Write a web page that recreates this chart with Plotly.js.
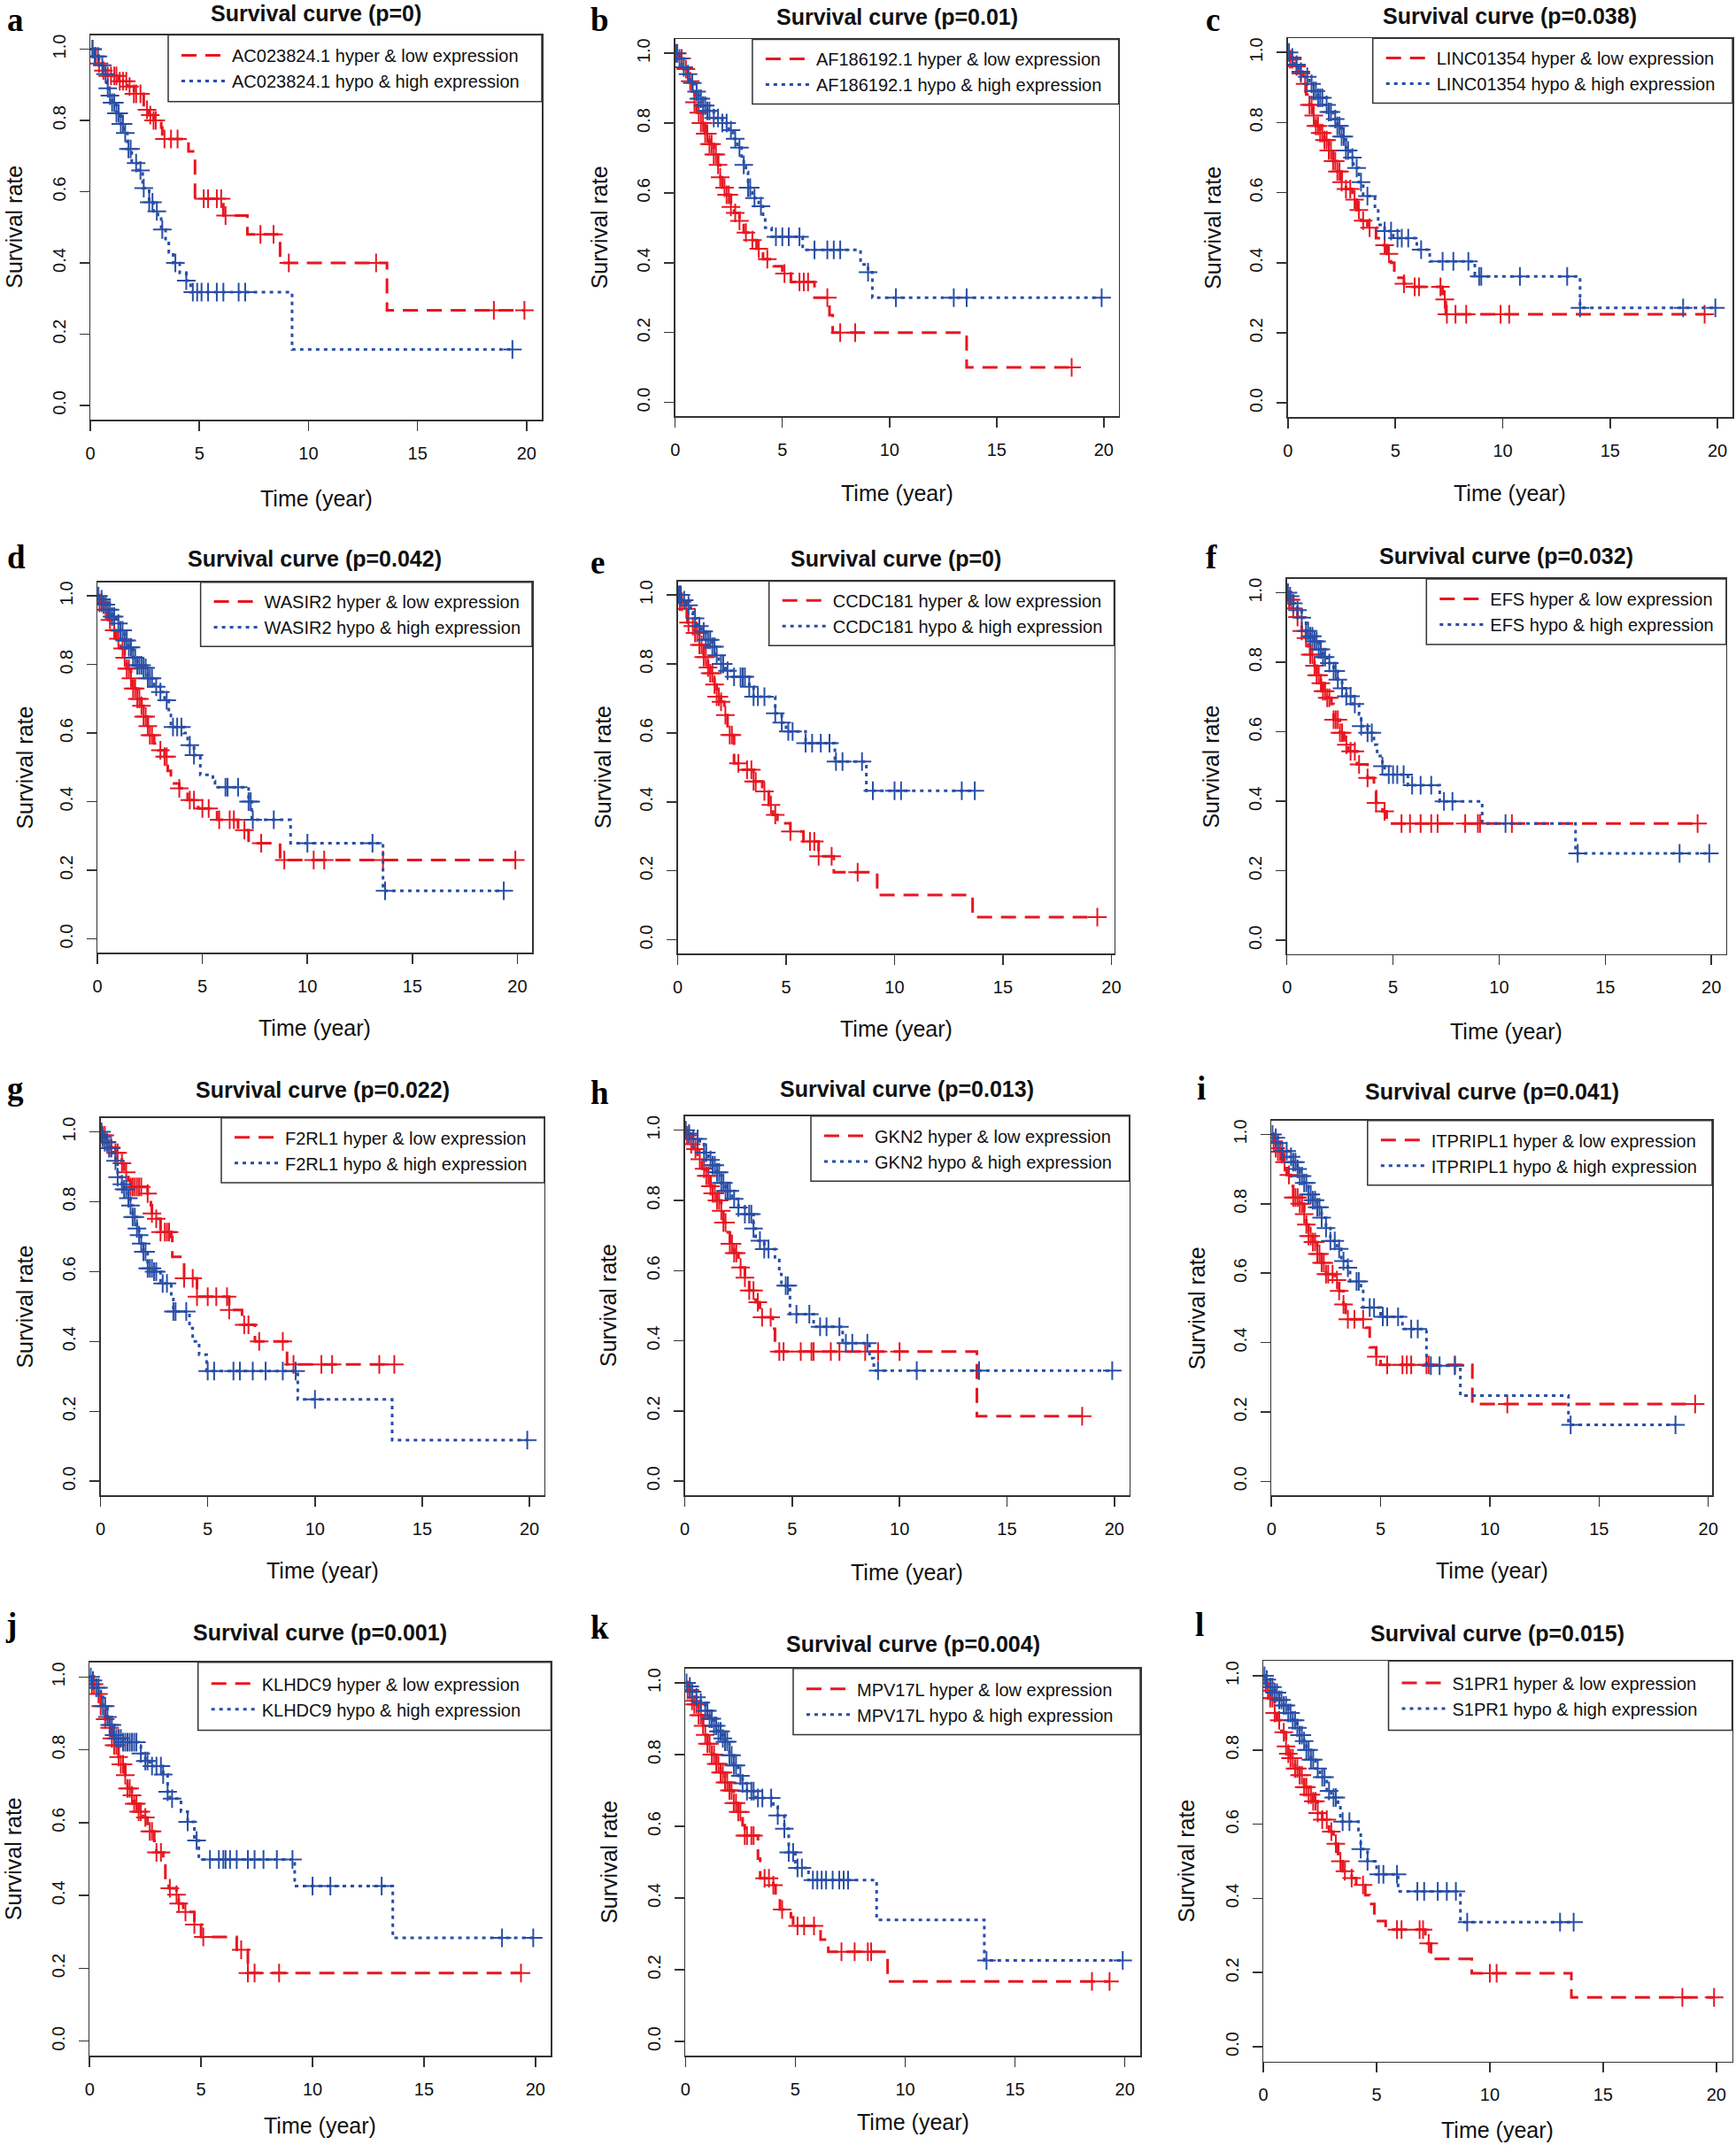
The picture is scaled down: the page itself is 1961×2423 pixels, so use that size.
<!DOCTYPE html>
<html><head><meta charset="utf-8">
<script src="https://cdn.plot.ly/plotly-3.0.1.min.js"></script>
<style>html,body{margin:0;padding:0;background:#fff}</style>
</head><body><div id="chart" style="width:1961px;height:2423px"></div>
<script>
// ---------------- DATA ----------------
const panelLetters = ['a','b','c','d','e','f','g','h','i','j','k','l'];
const genes = ['AC023824.1','AF186192.1','LINC01354','WASIR2','CCDC181','EFS','F2RL1','GKN2','ITPRIPL1','KLHDC9','MPV17L','S1PR1'];
const pValues = ['0','0.01','0.038','0.042','0','0.032','0.022','0.013','0.041','0.001','0.004','0.015'];
const xTickVals = [0,5,10,15,20];
const yTickVals = [0,0.2,0.4,0.6,0.8,1.0];
const yTickText = ['0.0','0.2','0.4','0.6','0.8','1.0'];

// a
const aHyperTime = [0.2,0.4,0.6,0.8,1.3,1.7,2.0,2.45,2.7,2.9,3.25,3.3,4.5,4.8,6.1,7.2,8.7,13.6];
const aHyperSurv = [0.98,0.96,0.94,0.925,0.91,0.895,0.875,0.83,0.815,0.80,0.78,0.748,0.713,0.58,0.533,0.48,0.40,0.267];
const aHyperCensor = [0.1,0.25,0.4,0.6,0.8,0.95,1.1,1.2,1.35,1.5,1.65,1.8,2.0,2.1,2.3,2.6,2.75,2.9,3.0,3.4,3.7,4.0,5.2,5.4,5.8,6.0,6.2,7.8,8.4,9.1,13.1,18.5,19.9];
const aHypoTime = [0.2,0.4,0.6,0.75,0.85,1.0,1.2,1.4,1.55,1.7,1.9,2.2,2.4,2.7,2.9,3.1,3.25,3.45,3.6,3.8,4.1,4.4,4.6,9.25];
const aHypoSurv = [0.98,0.955,0.93,0.89,0.87,0.85,0.82,0.79,0.765,0.72,0.68,0.66,0.61,0.57,0.545,0.53,0.494,0.456,0.43,0.40,0.372,0.35,0.318,0.157];
const aHypoCensor = [0.1,0.2,0.35,0.55,0.7,0.8,0.9,1.0,1.1,1.2,1.3,1.4,1.5,1.6,1.75,1.85,2.1,2.3,2.45,2.7,2.85,3.05,3.3,3.9,4.4,4.7,4.9,5.1,5.4,5.8,6.1,6.8,7.1,19.35];
// b
const bHyperTime = [0.2,0.4,0.6,0.8,0.9,1.0,1.2,1.4,1.6,1.8,2.0,2.1,2.2,2.4,2.6,2.75,3.0,3.2,3.5,3.8,4.1,4.6,5.0,5.4,6.5,7.2,7.35,13.6];
const bHyperSurv = [0.985,0.955,0.92,0.89,0.86,0.83,0.80,0.77,0.74,0.71,0.68,0.645,0.615,0.595,0.56,0.543,0.52,0.486,0.465,0.44,0.41,0.39,0.369,0.345,0.30,0.25,0.20,0.10];
const bHyperCensor = [0.1,0.3,0.5,0.7,0.9,1.1,1.2,1.3,1.4,1.5,1.6,1.7,1.8,1.9,2.0,2.1,2.3,2.4,2.5,2.6,2.8,3.0,3.3,3.6,3.9,4.3,5.1,5.8,6.0,6.2,7.1,7.7,8.4,18.5];
const bHypoTime = [0.1,0.3,0.5,0.7,0.9,1.1,1.3,1.5,1.8,2.2,2.5,2.7,2.9,3.1,3.2,3.3,3.4,3.6,3.9,4.1,4.2,4.5,5.95,8.65,9.0,9.2];
const bHypoSurv = [0.985,0.96,0.94,0.915,0.89,0.87,0.85,0.835,0.815,0.80,0.78,0.755,0.73,0.70,0.68,0.66,0.615,0.585,0.562,0.533,0.50,0.474,0.437,0.395,0.373,0.30];
const bHypoCensor = [0.05,0.2,0.4,0.6,0.8,1.0,1.1,1.2,1.3,1.4,1.5,1.6,1.8,2.0,2.2,2.4,2.6,2.8,3.0,3.2,3.4,3.5,3.7,4.0,4.7,5.0,5.3,5.8,6.5,7.1,7.4,7.7,9.0,10.3,13.0,13.6,19.9];
// c
const cHyperTime = [0.1,0.3,0.5,0.7,0.85,1.0,1.15,1.3,1.5,1.7,1.9,2.1,2.3,2.5,2.7,3.0,3.2,3.4,3.7,4.1,4.3,4.6,4.8,4.95,5.4,5.8,7.2,7.35];
const cHyperSurv = [0.98,0.96,0.94,0.91,0.88,0.85,0.82,0.79,0.77,0.75,0.72,0.69,0.66,0.63,0.61,0.58,0.55,0.52,0.50,0.47,0.45,0.425,0.40,0.357,0.34,0.331,0.295,0.253];
const cHyperCensor = [0.1,0.2,0.4,0.6,0.8,1.0,1.1,1.2,1.3,1.4,1.5,1.6,1.7,1.8,1.9,2.0,2.1,2.2,2.3,2.4,2.5,2.7,2.9,3.1,3.3,3.5,3.8,4.5,4.7,5.4,5.9,6.1,7.1,7.3,7.4,7.8,8.3,9.9,10.3,19.4];
const cHypoTime = [0.1,0.3,0.5,0.7,1.0,1.2,1.4,1.7,1.9,2.1,2.3,2.5,2.7,2.9,3.05,3.3,3.5,4.05,4.2,4.5,4.9,6.0,6.6,8.7,13.6];
const cHypoSurv = [0.985,0.965,0.945,0.93,0.91,0.89,0.87,0.85,0.83,0.81,0.79,0.76,0.72,0.70,0.67,0.63,0.59,0.56,0.508,0.49,0.47,0.437,0.404,0.361,0.271];
const cHypoCensor = [0.05,0.2,0.4,0.6,0.9,1.1,1.2,1.3,1.4,1.5,1.6,1.8,1.9,2.0,2.2,2.3,2.4,2.5,2.6,2.7,2.8,3.0,3.2,3.4,3.7,4.5,4.8,5.1,5.3,5.6,6.2,7.2,7.7,8.4,8.9,9.0,10.8,13.0,13.6,18.4,19.9];
// d
const dHyperTime = [0.1,0.3,0.5,0.7,0.9,1.1,1.3,1.4,1.6,1.7,1.9,2.1,2.2,2.4,2.5,2.7,2.9,3.2,3.35,3.5,3.9,4.3,4.8,5.7,6.7,7.2,8.7];
const dHyperSurv = [0.98,0.96,0.93,0.90,0.875,0.847,0.82,0.788,0.76,0.73,0.70,0.68,0.648,0.62,0.594,0.57,0.55,0.531,0.49,0.453,0.439,0.405,0.38,0.347,0.317,0.279,0.23];
const dHyperCensor = [0.1,0.2,0.4,0.6,0.8,1.0,1.2,1.3,1.4,1.5,1.6,1.7,1.8,1.9,2.0,2.1,2.2,2.3,2.4,2.5,2.6,3.0,3.2,3.3,3.9,4.4,4.6,5.0,5.3,5.8,6.3,6.5,7.0,7.8,8.9,10.3,10.8,13.6,19.9];
const dHypoTime = [0.1,0.3,0.5,0.7,0.9,1.1,1.3,1.5,1.7,1.9,2.2,2.4,2.7,3.0,3.2,3.4,3.5,4.1,4.3,4.6,4.9,5.5,5.6,7.2,7.35,9.2,13.6];
const dHypoSurv = [0.99,0.975,0.96,0.94,0.92,0.90,0.87,0.85,0.82,0.798,0.79,0.76,0.735,0.72,0.696,0.657,0.618,0.60,0.565,0.536,0.478,0.46,0.442,0.40,0.347,0.279,0.14];
const dHypoCensor = [0.05,0.2,0.3,0.4,0.5,0.6,0.7,0.8,1.0,1.1,1.2,1.3,1.4,1.5,1.6,1.7,1.8,1.9,2.0,2.1,2.2,2.3,2.4,2.5,2.6,2.8,3.0,3.3,3.6,3.8,4.0,4.4,4.6,6.1,6.2,6.7,7.2,7.3,7.4,8.4,10.0,13.1,13.7,19.35];
// e
const eHyperTime = [0.1,0.3,0.45,0.6,0.8,1.0,1.2,1.4,1.5,1.7,1.8,2.0,2.15,2.3,2.6,3.0,3.5,3.9,4.2,4.4,4.6,5.2,5.8,6.5,7.2,9.2,13.6];
const eHyperSurv = [0.98,0.96,0.92,0.91,0.89,0.855,0.82,0.79,0.773,0.74,0.705,0.69,0.652,0.594,0.512,0.493,0.459,0.43,0.391,0.362,0.338,0.314,0.285,0.242,0.196,0.13,0.066];
const eHyperCensor = [0.1,0.2,0.4,0.5,0.7,0.8,0.9,1.0,1.1,1.2,1.3,1.4,1.5,1.6,1.7,1.8,1.9,2.0,2.2,2.4,2.5,2.8,3.2,3.4,3.5,3.6,4.0,4.3,4.5,5.2,6.1,6.3,6.5,7.1,8.3,19.35];
const eHypoTime = [0.2,0.4,0.6,0.7,0.9,1.1,1.3,1.6,1.75,1.9,2.2,2.5,3.3,3.5,4.5,4.8,5.0,5.9,7.25,8.7];
const eHypoSurv = [0.985,0.97,0.95,0.932,0.91,0.894,0.87,0.85,0.825,0.80,0.78,0.763,0.734,0.705,0.657,0.63,0.604,0.57,0.517,0.432];
const eHypoCensor = [0.05,0.1,0.15,0.3,0.5,0.8,1.0,1.2,1.3,1.4,1.5,1.6,1.7,1.8,2.0,2.1,2.3,2.6,2.9,3.0,3.1,3.3,3.5,3.7,4.0,4.5,4.8,5.1,5.3,5.9,6.2,6.6,7.0,7.3,7.6,8.5,9.0,10.0,10.3,13.1,13.7];
// f
const fHyperTime = [0.1,0.3,0.5,0.7,0.9,1.0,1.1,1.3,1.4,1.6,1.7,1.9,2.1,2.2,2.5,2.7,2.9,3.3,3.8,4.1,4.2,4.5,4.7];
const fHyperSurv = [0.98,0.955,0.93,0.89,0.87,0.846,0.822,0.79,0.763,0.74,0.717,0.698,0.68,0.635,0.597,0.563,0.544,0.506,0.467,0.429,0.395,0.371,0.336];
const fHyperCensor = [0.1,0.2,0.3,0.5,0.7,0.9,1.1,1.2,1.3,1.4,1.5,1.6,1.7,1.8,1.9,2.0,2.2,2.3,2.4,2.5,2.6,2.8,3.0,3.2,3.4,3.8,4.2,4.6,5.4,5.8,6.3,6.8,7.1,8.4,9.0,9.1,10.6,19.35];
const fHypoTime = [0.1,0.3,0.5,0.7,0.9,1.1,1.3,1.5,1.7,1.9,2.2,2.4,2.6,2.8,3.1,3.4,3.5,3.8,4.1,4.25,4.5,4.6,5.7,7.2,9.2,13.6];
const fHypoSurv = [0.99,0.97,0.95,0.928,0.89,0.875,0.86,0.837,0.815,0.798,0.775,0.75,0.725,0.702,0.68,0.65,0.616,0.597,0.563,0.53,0.501,0.477,0.446,0.40,0.336,0.25];
const fHypoCensor = [0.05,0.15,0.3,0.5,0.7,0.9,1.0,1.1,1.2,1.3,1.4,1.5,1.6,1.7,1.8,2.0,2.2,2.3,2.4,2.6,2.8,3.0,3.2,3.5,3.8,4.0,4.5,4.8,5.0,5.2,5.5,5.9,6.3,6.8,7.4,7.8,10.3,13.7,18.5,19.9];
// g
const gHyperTime = [0.1,0.3,0.5,0.7,1.0,1.1,1.3,1.4,2.2,2.35,2.4,2.6,2.8,3.3,3.35,3.9,4.5,6.0,6.6,7.2,8.7];
const gHyperSurv = [0.99,0.97,0.955,0.94,0.91,0.884,0.86,0.842,0.823,0.79,0.766,0.751,0.713,0.699,0.642,0.581,0.528,0.49,0.448,0.40,0.334];
const gHyperCensor = [0.1,0.2,0.3,0.5,0.7,0.8,1.0,1.2,1.4,1.5,1.6,1.7,1.8,1.9,2.2,2.4,2.6,2.8,3.0,3.1,3.2,3.9,4.3,4.5,5.0,5.4,5.9,6.0,6.7,6.9,7.4,8.5,9.0,10.3,10.8,13.0,13.7];
const gHypoTime = [0.1,0.2,0.4,0.6,0.7,0.8,1.0,1.1,1.3,1.4,1.5,1.7,1.8,1.9,2.0,2.2,2.5,2.8,3.3,3.4,4.15,4.3,4.6,4.95,9.2,13.6];
const gHypoSurv = [0.985,0.97,0.953,0.93,0.917,0.87,0.85,0.835,0.81,0.789,0.756,0.723,0.704,0.68,0.657,0.609,0.60,0.566,0.528,0.486,0.438,0.40,0.362,0.315,0.234,0.118];
const gHypoCensor = [0.05,0.1,0.2,0.3,0.4,0.5,0.7,0.8,1.0,1.1,1.2,1.3,1.4,1.5,1.6,1.7,1.8,1.9,2.0,2.1,2.2,2.3,2.4,2.5,2.6,2.9,3.1,3.4,3.5,4.0,5.0,5.3,6.2,6.5,7.1,7.7,8.5,9.1,10.0,19.9];
// h
const hHyperTime = [0.1,0.3,0.4,0.6,0.8,1.0,1.2,1.3,1.5,1.7,1.8,2.0,2.1,2.3,2.5,2.8,3.0,3.3,3.5,4.1,4.2,13.6];
const hHyperSurv = [0.985,0.96,0.946,0.917,0.89,0.87,0.84,0.82,0.80,0.77,0.737,0.709,0.676,0.65,0.609,0.58,0.543,0.51,0.467,0.434,0.369,0.185];
const hHyperCensor = [0.1,0.2,0.3,0.5,0.7,0.9,1.0,1.1,1.2,1.3,1.4,1.5,1.6,1.7,1.8,1.9,2.1,2.2,2.3,2.4,2.6,2.8,3.0,3.2,3.4,3.6,4.0,4.4,4.6,5.4,5.9,6.0,6.8,7.2,8.4,9.0,10.0,18.5];
const hHypoTime = [0.1,0.4,0.7,0.9,1.1,1.3,1.5,1.7,1.9,2.2,2.5,2.8,3.2,3.3,3.7,4.2,4.4,4.5,4.9,6.0,7.35,8.6,8.8];
const hHypoSurv = [0.99,0.975,0.96,0.936,0.915,0.90,0.88,0.85,0.827,0.804,0.78,0.761,0.72,0.685,0.661,0.63,0.59,0.557,0.476,0.44,0.393,0.35,0.315];
const hHypoCensor = [0.05,0.2,0.4,0.6,0.9,1.0,1.2,1.3,1.4,1.5,1.6,1.7,1.8,1.9,2.0,2.1,2.3,2.5,2.8,3.0,3.1,3.2,3.5,3.7,3.9,4.7,4.8,5.2,5.8,6.3,6.6,7.2,7.5,7.8,8.5,9.0,10.8,13.7,19.9];
// i
const iHyperTime = [0.1,0.2,0.3,0.5,0.7,0.9,1.0,1.3,1.5,1.6,1.7,1.9,2.1,2.3,2.5,2.9,3.1,3.3,3.4,4.3,4.5,4.8,5.0,9.2];
const iHyperSurv = [0.98,0.96,0.95,0.92,0.883,0.851,0.818,0.80,0.77,0.74,0.707,0.69,0.655,0.63,0.597,0.58,0.549,0.51,0.467,0.443,0.386,0.359,0.336,0.223];
const iHyperCensor = [0.1,0.2,0.3,0.4,0.6,0.8,1.0,1.1,1.2,1.3,1.4,1.5,1.6,1.7,1.8,1.9,2.0,2.1,2.2,2.3,2.4,2.5,2.6,2.8,3.0,3.1,3.3,3.5,3.8,4.2,4.8,5.3,6.0,6.2,6.4,7.1,7.2,8.4,10.8,19.4];
const iHypoTime = [0.1,0.3,0.5,0.8,1.0,1.2,1.3,1.5,1.7,1.9,2.1,2.3,2.5,2.7,3.0,3.2,3.5,3.6,4.1,4.2,5.0,6.0,7.1,8.65,13.6];
const iHypoSurv = [0.99,0.975,0.952,0.935,0.92,0.90,0.88,0.86,0.827,0.81,0.79,0.76,0.73,0.693,0.67,0.635,0.616,0.576,0.549,0.501,0.474,0.439,0.333,0.247,0.163];
const iHypoCensor = [0.05,0.2,0.3,0.5,0.7,0.9,1.0,1.1,1.2,1.3,1.4,1.5,1.6,1.7,1.8,1.9,2.0,2.1,2.2,2.3,2.5,2.7,2.9,3.1,3.3,3.5,3.9,4.0,4.5,4.7,5.1,5.3,5.8,6.4,6.7,7.3,7.7,8.4,13.7,18.5];
// j
const jHyperTime = [0.1,0.3,0.5,0.7,0.9,1.0,1.1,1.3,1.4,1.6,1.7,1.9,2.0,2.2,2.4,2.6,2.9,3.0,3.3,3.4,3.55,3.9,4.0,4.2,4.7,5.0,6.6,7.1];
const jHyperSurv = [0.98,0.953,0.92,0.884,0.86,0.831,0.812,0.78,0.76,0.73,0.694,0.675,0.652,0.63,0.614,0.576,0.55,0.518,0.49,0.44,0.42,0.402,0.378,0.355,0.32,0.286,0.251,0.187];
const jHyperCensor = [0.1,0.2,0.4,0.5,0.7,0.9,1.0,1.1,1.2,1.3,1.4,1.5,1.6,1.7,1.8,1.9,2.0,2.1,2.2,2.3,2.5,2.7,2.8,3.0,3.2,3.6,3.9,4.0,4.3,4.7,5.1,6.8,7.1,7.4,8.5,19.35];
const jHypoTime = [0.1,0.3,0.5,0.6,0.8,0.9,1.1,1.2,1.5,2.2,2.3,2.5,2.7,3.3,3.5,3.6,4.1,4.4,4.7,4.9,9.2,13.6];
const jHypoSurv = [0.99,0.97,0.95,0.92,0.89,0.868,0.84,0.831,0.821,0.81,0.79,0.769,0.755,0.732,0.685,0.666,0.63,0.602,0.551,0.499,0.426,0.284];
const jHypoCensor = [0.05,0.15,0.3,0.4,0.6,0.7,0.8,0.9,1.0,1.1,1.2,1.3,1.4,1.5,1.6,1.7,1.8,1.9,2.0,2.1,2.3,2.5,2.6,2.8,3.0,3.2,3.3,3.5,3.7,4.4,4.8,5.4,5.8,6.0,6.1,6.3,6.6,7.1,7.4,7.8,8.4,9.1,10.0,10.8,13.1,18.5,19.9];
// k
const kHyperTime = [0.1,0.3,0.4,0.6,0.8,0.9,1.0,1.2,1.4,1.6,1.8,2.0,2.2,2.4,2.6,2.7,3.3,3.4,4.0,4.1,4.3,4.8,4.9,6.15,6.5,9.2];
const kHyperSurv = [0.98,0.95,0.94,0.91,0.88,0.855,0.83,0.80,0.774,0.75,0.722,0.70,0.665,0.64,0.603,0.574,0.51,0.455,0.436,0.398,0.368,0.346,0.322,0.284,0.25,0.167];
const kHyperCensor = [0.1,0.2,0.3,0.4,0.5,0.6,0.7,0.8,0.9,1.0,1.1,1.2,1.3,1.4,1.5,1.6,1.7,1.8,1.9,2.0,2.1,2.2,2.3,2.4,2.5,2.7,2.8,3.0,3.1,3.6,3.8,4.0,4.4,5.1,5.4,5.85,7.1,7.7,8.3,8.45,18.5,19.3];
const kHypoTime = [0.1,0.3,0.5,0.7,0.9,1.1,1.3,1.5,1.7,1.8,2.0,2.2,2.4,2.6,2.8,3.2,4.0,4.2,4.5,4.7,5.0,5.6,8.7,13.6];
const kHypoSurv = [0.99,0.975,0.96,0.945,0.922,0.90,0.88,0.865,0.845,0.836,0.798,0.77,0.741,0.72,0.698,0.679,0.655,0.63,0.593,0.527,0.484,0.45,0.339,0.226];
const kHypoCensor = [0.05,0.2,0.3,0.5,0.7,0.9,1.0,1.1,1.2,1.3,1.4,1.5,1.6,1.7,1.8,1.9,2.0,2.1,2.2,2.3,2.5,2.6,2.8,3.0,3.1,3.3,3.5,3.9,4.2,4.5,4.7,4.9,5.1,5.3,5.8,6.0,6.2,6.4,6.7,7.0,7.2,7.4,13.7,19.9];
// l
const lHyperTime = [0.1,0.2,0.3,0.5,0.6,0.8,1.0,1.1,1.2,1.4,1.6,1.8,2.0,2.2,2.4,2.6,2.9,3.1,3.3,3.5,3.9,4.1,4.5,4.7,4.9,5.4,7.15,7.4,9.2,13.6];
const lHyperSurv = [0.98,0.96,0.94,0.90,0.88,0.848,0.81,0.79,0.778,0.75,0.732,0.70,0.68,0.662,0.63,0.612,0.58,0.547,0.50,0.473,0.455,0.436,0.409,0.385,0.339,0.316,0.279,0.237,0.198,0.133];
const lHyperCensor = [0.1,0.2,0.3,0.4,0.5,0.7,0.9,1.0,1.1,1.2,1.3,1.4,1.5,1.6,1.7,1.8,1.9,2.0,2.1,2.2,2.3,2.4,2.6,2.8,3.0,3.2,3.4,3.6,3.9,4.4,5.9,6.1,6.9,7.05,7.3,10.0,10.3,18.5,19.9];
const lHypoTime = [0.1,0.3,0.5,0.7,0.9,1.1,1.3,1.5,1.6,1.8,1.9,2.1,2.3,2.5,2.8,3.0,3.3,3.4,4.2,4.3,4.6,5.0,5.95,8.7];
const lHypoSurv = [0.99,0.97,0.955,0.935,0.92,0.90,0.88,0.86,0.84,0.824,0.80,0.774,0.75,0.727,0.69,0.672,0.654,0.607,0.584,0.533,0.50,0.465,0.419,0.336];
const lHypoCensor = [0.05,0.15,0.3,0.4,0.5,0.6,0.7,0.8,0.9,1.0,1.1,1.2,1.3,1.4,1.5,1.6,1.7,1.8,1.9,2.0,2.1,2.2,2.4,2.6,2.7,2.9,3.1,3.2,3.5,3.8,4.3,4.6,5.1,5.3,5.9,6.8,7.1,7.7,8.1,8.5,9.0,13.1,13.7];

const hyperSeries = [
  [aHyperTime,aHyperSurv,aHyperCensor],[bHyperTime,bHyperSurv,bHyperCensor],[cHyperTime,cHyperSurv,cHyperCensor],
  [dHyperTime,dHyperSurv,dHyperCensor],[eHyperTime,eHyperSurv,eHyperCensor],[fHyperTime,fHyperSurv,fHyperCensor],
  [gHyperTime,gHyperSurv,gHyperCensor],[hHyperTime,hHyperSurv,hHyperCensor],[iHyperTime,iHyperSurv,iHyperCensor],
  [jHyperTime,jHyperSurv,jHyperCensor],[kHyperTime,kHyperSurv,kHyperCensor],[lHyperTime,lHyperSurv,lHyperCensor]];
const hypoSeries = [
  [aHypoTime,aHypoSurv,aHypoCensor],[bHypoTime,bHypoSurv,bHypoCensor],[cHypoTime,cHypoSurv,cHypoCensor],
  [dHypoTime,dHypoSurv,dHypoCensor],[eHypoTime,eHypoSurv,eHypoCensor],[fHypoTime,fHypoSurv,fHypoCensor],
  [gHypoTime,gHypoSurv,gHypoCensor],[hHypoTime,hHypoSurv,hHypoCensor],[iHypoTime,iHypoSurv,iHypoCensor],
  [jHypoTime,jHypoSurv,jHypoCensor],[kHypoTime,kHypoSurv,kHypoCensor],[lHypoTime,lHypoSurv,lHypoCensor]];

// ---------------- LAYOUT GEOMETRY (pixels) ----------------
const W = 1961, H = 2423;
// [left, right, top, bottom] of each plot box
const boxes = [
  [102,612,39.5,474],[762.7,1263.7,44.4,470.3],[1454.9,1957,43.3,471],
  [110,601,657.7,1076],[765.5,1258.5,656.5,1077.2],[1453.7,1949.9,653.9,1077.9],
  [113.5,614.9,1262.7,1689],[773.5,1275.7,1260.8,1689],[1436.2,1934,1265.7,1689],
  [101.2,622.4,1877.8,2322.2],[774.3,1288,1884.8,2322.2],[1427.1,1956.6,1876.3,2328.8]];
// legend frame: [left, bottom]; right and top follow the plot box
const legendFrames = [[190,114.7],[849.9,117.4],[1550.7,116.6],[226.6,730.3],[868.7,729.2],[1611.3,728],
  [250,1336],[916,1334.2],[1544.8,1338.7],[223.7,1954.6],[896,1959.6],[1568.5,1954.6]];
const titleAbove = [24.5,25.5,25.5,26.4,25.9,25.6,32,30.8,32.4,33.7,27.9,31.1];
const xTitleBelow = [88.5,86.5,85.8,85,84.6,86.9,85.3,87.2,85.3,78.3,74.4,77];
const yTitleLeft = [86,85.7,85.2,82.3,84.4,86,85.8,86.4,84.3,86,87,88];
const letterPos = [[6,35],[665,35],[1360,35],[6,642.6],[665,648],[1360,642.6],[6,1242],[665,1247.6],[1350,1242],[4,1848],[665,1851.8],[1348,1848]];

const FONT = '"Liberation Sans", Arial, Helvetica, sans-serif';
const RED = 'rgb(232,22,32)';
const BLUE = 'rgb(40,78,165)';
const AXC = '#333';

function stepAt(times, surv, t) {
  let v = 1;
  for (let i = 0; i < times.length; i++) if (times[i] <= t) v = surv[i];
  return v;
}
function curve(times, surv, censor) {
  const end = Math.max(times[times.length-1], ...censor);
  return {x: [0, ...times, end], y: [1, ...surv, surv[surv.length-1]]};
}

const traces = [];
const layout = {
  width: W, height: H, margin: {l:0, r:0, t:0, b:0},
  paper_bgcolor: 'white', plot_bgcolor: 'white', showlegend: true,
  font: {family: FONT, color: '#111'}, annotations: [], shapes: []
};

panelLetters.forEach((letter, i) => {
  const n = i === 0 ? '' : String(i+1);
  const xa = 'x' + n, ya = 'y' + n, lg = 'legend' + n;
  const [L, R, T, B] = boxes[i];
  const [LL, LB] = legendFrames[i];
  const groups = [
    {s: hyperSeries[i], name: genes[i] + ' hyper & low expression', color: RED, dash: '17px,10px'},
    {s: hypoSeries[i], name: genes[i] + ' hypo & high expression', color: BLUE, dash: '4px,5px'}];
  let tmax = 0;
  groups.forEach((g, gi) => {
    const [times, surv, censor] = g.s;
    const c = curve(times, surv, censor);
    tmax = Math.max(tmax, ...c.x);
    traces.push({type: 'scatter', mode: 'lines', x: c.x, y: c.y, xaxis: xa, yaxis: ya,
      line: {shape: 'hv', color: g.color, width: 3, dash: g.dash},
      name: g.name, legend: lg, legendgroup: letter, hoverinfo: 'skip'});
    traces.push({type: 'scatter', mode: 'markers', x: censor, y: censor.map(t => stepAt(times, surv, t)),
      xaxis: xa, yaxis: ya, showlegend: false, hoverinfo: 'skip',
      marker: {symbol: 'cross-thin', size: 15, line: {width: 2, color: g.color}, color: g.color}});
  });
  const common = {showline: true, mirror: true, linecolor: AXC, linewidth: 1.5, ticks: 'outside',
    ticklen: 11, tickwidth: 1.5, tickcolor: AXC, showgrid: false, zeroline: false,
    tickfont: {size: 20, family: FONT, color: '#111'}, fixedrange: true, ticklabelstandoff: 8};
  layout['xaxis' + n] = Object.assign({}, common, {domain: [L/W, R/W], range: [0, tmax*1.04],
    anchor: ya, tickvals: xTickVals, ticktext: xTickVals.map(String)});
  layout['yaxis' + n] = Object.assign({}, common, {domain: [1 - B/H, 1 - T/H], range: [-0.04, 1.04],
    anchor: xa, tickvals: yTickVals, ticktext: yTickText, tickangle: -90});
  layout[lg] = {x: (LL + 10)/W, xanchor: 'left', y: 1 - ((T + LB)/2)/H, yanchor: 'middle',
    bgcolor: 'rgba(0,0,0,0)', borderwidth: 0, font: {size: 20, family: FONT, color: '#111'},
    itemwidth: 52, tracegroupgap: 0, traceorder: 'normal'};
  layout.shapes.push({type: 'rect', xref: 'paper', yref: 'paper', x0: LL/W, x1: R/W, y0: 1 - LB/H, y1: 1 - T/H,
    line: {color: AXC, width: 1.5}, fillcolor: 'rgba(0,0,0,0)', layer: 'above'});
  layout.annotations.push(
    {xref: xa + ' domain', yref: ya + ' domain', x: 0.5, y: 1, yshift: titleAbove[i], xanchor: 'center', yanchor: 'middle',
     text: '<b>Survival curve (p=' + pValues[i] + ')</b>', showarrow: false, font: {size: 25, family: FONT, color: '#111'}},
    {xref: xa + ' domain', yref: ya + ' domain', x: 0.5, y: 0, yshift: -xTitleBelow[i], xanchor: 'center', yanchor: 'middle',
     text: 'Time (year)', showarrow: false, font: {size: 25, family: FONT, color: '#111'}},
    {xref: xa + ' domain', yref: ya + ' domain', x: 0, y: 0.5, xshift: -yTitleLeft[i], xanchor: 'center', yanchor: 'middle',
     text: 'Survival rate', textangle: -90, showarrow: false, font: {size: 25, family: FONT, color: '#111'}},
    {xref: 'paper', yref: 'paper', x: letterPos[i][0]/W, y: 1 - (letterPos[i][1] - 13)/H, xanchor: 'left', yanchor: 'middle',
     text: '<b>' + letter + '</b>', showarrow: false, font: {size: 37, family: '"Liberation Serif", "Times New Roman", serif', color: '#000'}}
  );
});

Plotly.newPlot('chart', traces, layout, {displayModeBar: false, staticPlot: true});
</script></body></html>
